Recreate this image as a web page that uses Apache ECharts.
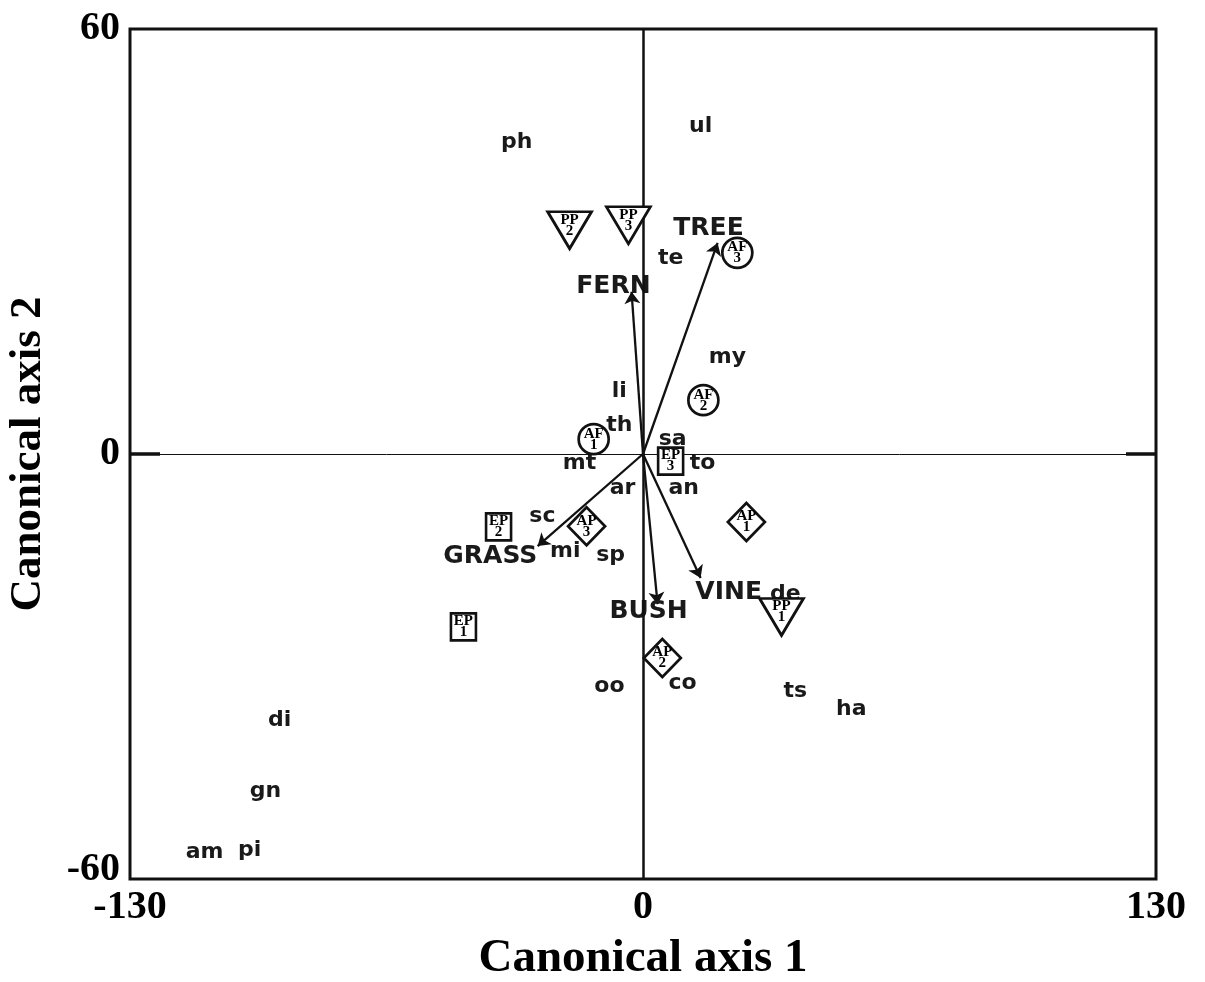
<!DOCTYPE html>
<html>
<head>
<meta charset="utf-8">
<script src="https://cdn.jsdelivr.net/npm/echarts@6/dist/echarts.min.js"></script>
<style>
  html, body { margin: 0; padding: 0; background: #fff; }
  #chart { width: 1205px; height: 982px; }
</style>
</head>
<body>
<div id="chart"></div>
<script>
// Species scores (labels only)
const speciesNames = ['ph','ul','te','my','li','th','sa','mt','to','ar','an','sc','mi','sp','de','oo','co','ts','ha','di','gn','am','pi'];
const speciesX = [-32.0, 14.6, 7.0, 21.4, -6.0, -6.0, 7.5, -16.1, 15.1, -5.2, 10.3, -25.5, -19.7, -8.2, 36.1, -8.5, 10.0, 38.6, 52.8, -92.1, -95.7, -111.1, -99.7];
const speciesY = [44.0, 46.3, 27.7, 13.7, 8.9, 4.0, 2.1, -1.3, -1.3, -4.8, -4.8, -8.8, -13.8, -14.3, -19.8, -32.8, -32.3, -33.5, -36.1, -37.6, -47.6, -56.2, -55.9];

// Site scores: code, replicate, habitat shape
const siteCodes = ['PP','PP','PP','AF','AF','AF','EP','EP','EP','AP','AP','AP'];
const siteReps  = ['1','2','3','1','2','3','1','2','3','1','2','3'];
const siteX = [35.1, -18.6, -3.7, -12.5, 15.3, 23.9, -45.5, -36.6, 7.0, 26.2, 4.9, -14.3];
const siteY = [-23.0, 31.6, 32.3, 2.1, 7.6, 28.4, -24.4, -10.3, -1.0, -9.6, -28.8, -10.2];

// Environmental variables: arrow tips and label anchors
const varNames = ['TREE','FERN','GRASS','BUSH','VINE'];
const varX = [18.9, -2.9, -26.7, 3.7, 14.6];
const varY = [29.8, 22.9, -13.0, -21.2, -17.5];
const varLabelX = [16.6, -7.5, -38.7, 1.4, 21.7];
const varLabelY = [31.8, 23.6, -14.5, -22.3, -19.6];

// Axis ranges and tick values
const xRange = [-130, 130];
const yRange = [-60, 60];
const innerTicks = [0];

const shapeOf = { PP: 'triangle', AF: 'circle', EP: 'rect', AP: 'diamond' };
const sizeOf = { PP: [44, 37], AF: [30, 30], EP: [25, 27], AP: [37, 38] };

const chart = echarts.init(document.getElementById('chart'));

const serifBold = { fontFamily: 'Liberation Serif', fontWeight: 'bold', color: '#000' };
const sansBold = 'DejaVu Sans';

function yAxisCfg(pos, showLabels) {
  return {
    type: 'value', position: pos, min: yRange[0], max: yRange[1], interval: 60,
    axisLine: { show: false, onZero: false },
    axisTick: { show: true, inside: true, length: 30, customValues: innerTicks, lineStyle: { color: '#111', width: 3.5 } },
    splitLine: { show: false },
    axisLabel: showLabels ? Object.assign({
      fontSize: 40, margin: 10,
      // the lowest label sits a little above the corner
      formatter: v => v === yRange[0] ? '{lo|' + v + '}' : String(v),
      rich: { lo: Object.assign({ fontSize: 40, padding: [0, 0, 18, 0] }, serifBold) }
    }, serifBold) : { show: false },
    name: showLabels ? 'Canonical axis 2' : '',
    nameLocation: 'middle', nameGap: 79, nameRotate: 90,
    nameTextStyle: Object.assign({ fontSize: 45 }, serifBold)
  };
}

const siteData = siteX.map((x, i) => ({
  value: [x, siteY[i]],
  symbol: shapeOf[siteCodes[i]],
  symbolSize: sizeOf[siteCodes[i]],
  symbolRotate: siteCodes[i] === 'PP' ? 180 : 0,
  label: {
    show: true, position: 'inside',
    formatter: siteCodes[i] + '\n' + siteReps[i],
    offset: siteCodes[i] === 'PP' ? [0, -5] : [0, 0],
    fontFamily: 'Liberation Serif', fontWeight: 'bold', fontSize: 15, lineHeight: 11, color: '#000'
  }
}));

chart.setOption({
  animation: false,
  backgroundColor: '#fff',
  grid: { left: 130, right: 49, top: 29, bottom: 103, outerBoundsMode: 'none', containLabel: false,
          show: true, borderColor: '#111', borderWidth: 3, backgroundColor: 'transparent' },
  xAxis: {
    type: 'value', min: xRange[0], max: xRange[1], interval: 130,
    axisLine: { show: false, onZero: false },
    axisTick: { show: false },
    splitLine: { show: false },
    axisLabel: Object.assign({ fontSize: 40, margin: 9 }, serifBold),
    name: 'Canonical axis 1', nameLocation: 'middle', nameGap: 56,
    nameTextStyle: Object.assign({ fontSize: 47 }, serifBold)
  },
  yAxis: [yAxisCfg('left', true), yAxisCfg('right', false)],
  series: [
    {
      // zero reference lines
      type: 'scatter', data: [], silent: true,
      markLine: {
        silent: true, symbol: 'none', label: { show: false },
        data: [
          { xAxis: 0, lineStyle: { color: '#111', width: 2.5, type: 'solid' } },
          { yAxis: 0, lineStyle: { color: '#111', width: 1, type: 'solid' } }
        ]
      }
    },
    {
      // biplot arrows for environmental variables
      type: 'lines', coordinateSystem: 'cartesian2d', silent: true,
      symbol: ['none', 'arrow'], symbolSize: 12,
      lineStyle: { color: '#111', width: 2.3, opacity: 1 },
      data: varX.map((x, i) => ({ coords: [[0, 0], [x, varY[i]]] })),
      z: 3
    },
    {
      // variable names
      type: 'scatter', symbolSize: 0, silent: true,
      itemStyle: { opacity: 1 },
      data: varNames.map((n, i) => ({ value: [varLabelX[i], varLabelY[i]], name: n })),
      label: { show: true, position: 'inside', formatter: p => p.name, fontFamily: sansBold, fontWeight: 'bold', fontSize: 25, color: '#1a1a1a', opacity: 1 },
      z: 4
    },
    {
      // species labels
      type: 'scatter', symbolSize: 0, silent: true,
      itemStyle: { opacity: 1 },
      data: speciesNames.map((n, i) => ({ value: [speciesX[i], speciesY[i]], name: n })),
      label: { show: true, position: 'inside', formatter: p => p.name, fontFamily: sansBold, fontWeight: 'bold', fontSize: 22, color: '#1a1a1a', opacity: 1 },
      z: 4
    },
    {
      // sites
      type: 'scatter', silent: true,
      itemStyle: { color: '#fff', borderColor: '#111', borderWidth: 2.7, opacity: 1 },
      data: siteData,
      z: 5
    }
  ]
});
</script>
</body>
</html>
